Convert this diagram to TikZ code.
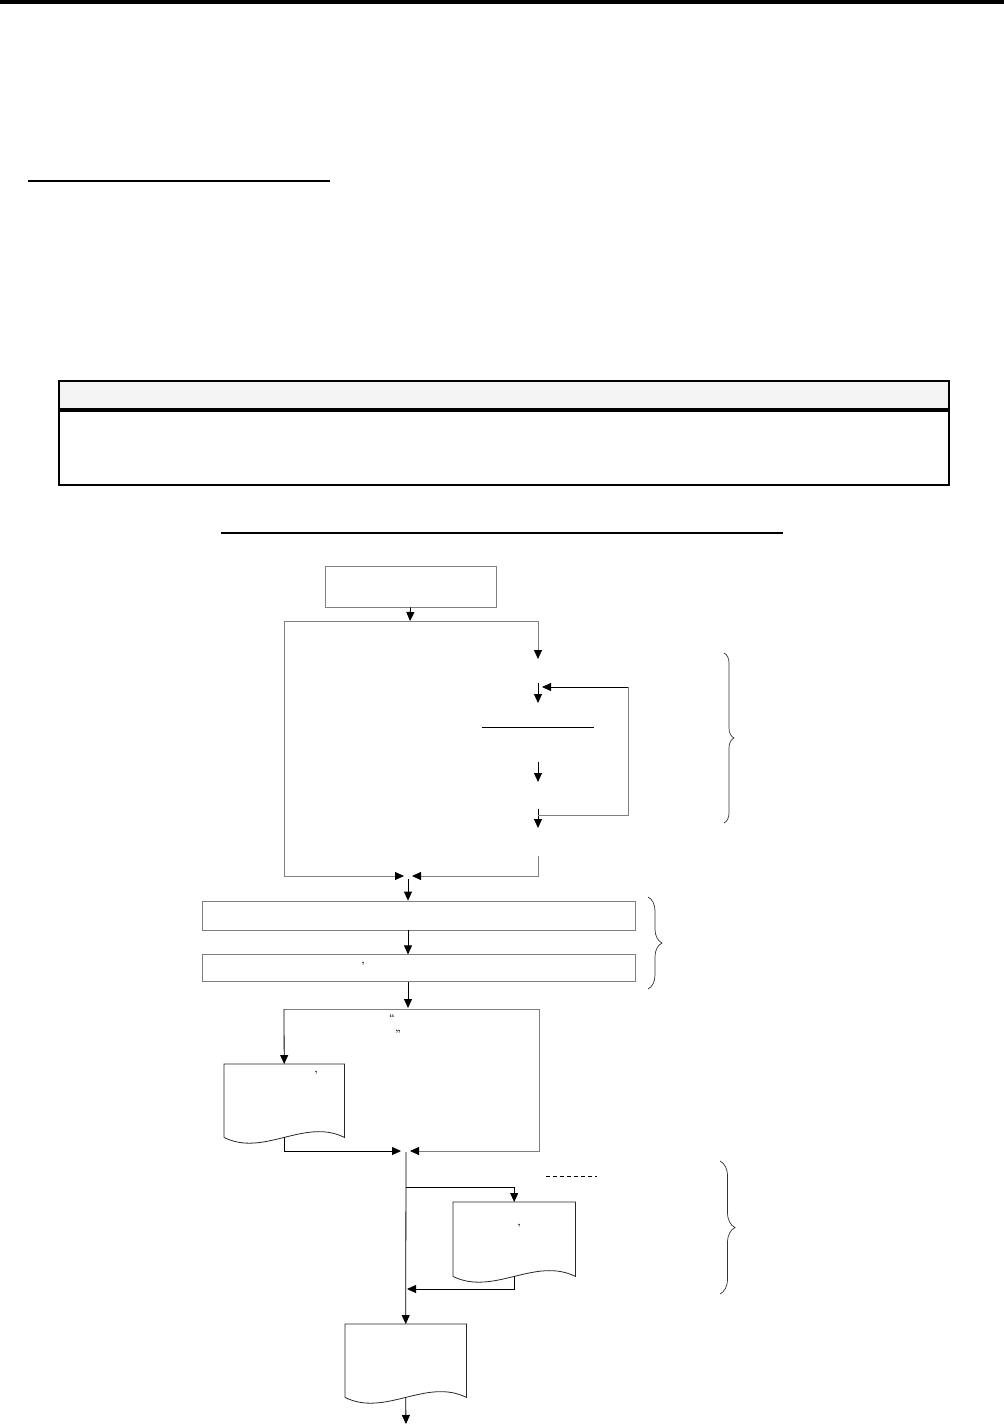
\documentclass[tikz,border=0pt]{standalone}
\usetikzlibrary{arrows.meta,positioning,calc,decorations.pathreplacing}
\definecolor{ln}{HTML}{808080}
\definecolor{hd}{HTML}{F4F4F4}
\tikzset{
  box/.style={draw=ln,line width=0.8pt,inner sep=0pt},
  doc/.style={inner sep=0pt,anchor=north west},
  docl/.style={draw=black!85,line width=0.8pt},
  ar/.style={-{Triangle[length=9pt,width=8pt,color=black]},line width=0.8pt},
  gl/.style={draw=ln,line width=0.8pt},
  brc/.style={decorate,decoration={brace,amplitude=#1},line width=0.7pt,draw=black!80},
  brc/.default=10pt,
  mk/.style={inner sep=0pt,font=\small\bfseries},
}
\begin{document}
\begin{tikzpicture}[x=1pt,y=-1pt]
\useasboundingbox (0,0) rectangle (1004,1425);
% page furniture
\fill (0,0) rectangle (1004,4);
\draw[line width=1.5pt] (28,181) -- (330,181);
\node[draw,line width=2pt,fill=hd,minimum width=890pt,minimum height=28pt,inner sep=0pt,anchor=north west] (hdr) at (58,380) {};
\node[draw,line width=2pt,minimum width=890pt,minimum height=74pt,inner sep=0pt,anchor=north west] (tbody) at (hdr.south west) {};
\draw[line width=1.2pt] (221,533) -- (783,533);

% steps
\node[box,minimum width=171pt,minimum height=41pt] (start) at (410.5,586.5) {};
\node[box,minimum width=433pt,minimum height=29pt] (stepA) at (418.5,915.5) {};
\node[box,minimum width=433pt,minimum height=27pt,below=24pt of stepA] (stepB) {};
\node[doc,minimum width=120pt,minimum height=73pt] (doc1) at (224,1064) {};
\node[doc,minimum width=122pt,minimum height=74pt] (doc2) at (453,1202) {};
\node[doc,minimum width=121pt,minimum height=73pt] (doc3) at (345,1324) {};
\foreach \d in {doc1,doc2,doc3}
  \draw[docl] (\d.south west) -- (\d.north west) -- (\d.north east) -- (\d.south east)
    .. controls ($(\d.south east)!0.33!(\d.south west)+(0,-20)$) and ($(\d.south east)!0.67!(\d.south west)+(0,20)$) .. (\d.south west);

% marks left of the lost text
\node[mk,anchor=north] (q1) at (363,962) {’};
\node[mk,anchor=north] (q2) at (392,1014) {“};
\node[mk,anchor=north] (q3) at (398,1030) {”};
\node[mk,anchor=north] (q4) at (316,1071) {’};
\node[mk,anchor=north] (q5) at (519,1224) {’};

% upper loop
\coordinate (sp1) at (410,621);
\coordinate (lc) at (284,876);
\coordinate (mg1l) at (404,876);
\coordinate (mg1r) at (412,876);
\coordinate (mg1) at (408,879);
\coordinate (r0) at (538,659);
\coordinate (r4) at (538,856);
\foreach \n/\ya/\yb in {a/683/703,b/762/782,c/809/828} {
  \coordinate (\n top) at (538,\ya);
  \coordinate (\n bot) at (538,\yb);
}
\coordinate (fb0) at (538,815);
\coordinate (fbt) at (628,687);
\coordinate (fbe) at (542,687);
\draw[ar] (start.south) -- (sp1);
\draw[gl,ar] (sp1) -| (lc) -- (mg1l);
\draw[gl,ar] (sp1) -| (r0);
\foreach \n in {a,b,c}
  \draw[ar] (\n top) -- (\n bot);
\draw[gl] (fb0) -| (fbt);
\draw[ar] (fbt) -- (fbe);
\draw[line width=1pt] (482,727) -- (594,727);
\draw[gl,ar] (r4) |- (mg1r);
\draw[ar] (mg1) -- (mg1 |- stepA.north);
\draw[ar] (mg1 |- stepA.south) -- (mg1 |- stepB.north);

% output split
\coordinate (sp2) at (408,1008);
\coordinate (ll2) at (284,1009);
\coordinate (rr2) at (539,1009);
\coordinate (mg2l) at (401,1151);
\coordinate (mg2r) at (410,1151);
\draw[ar] (mg1 |- stepB.south) -- (sp2);
\draw[gl] (ll2) -- (rr2);
\draw[ar] (ll2) -- (doc1.north);
\draw[gl,ar] (rr2) |- (mg2r);
\draw[ar] (doc1.south) |- (mg2l);

% lower part
\coordinate (mg2) at (406,1152);
\coordinate (br) at (406,1187);
\coordinate (rt) at (407,1289);
\coordinate (ex) at (406,1424);
\draw[ar] (mg2) -- (doc3.north);
\draw[ar] (br) -| (doc2.north);
\draw[ar] (doc2.south) |- (rt);
\draw[ar] (doc3.south) -- (ex);
\draw[dash pattern=on 4pt off 3pt,line width=0.8pt] (546,1176) -- (597,1176);

% braces
\draw[brc=10pt] (724,653) -- (724,823);
\draw[brc=14pt] (648,897) -- (648,989);
\draw[brc=15pt] (720,1161) -- (720,1294);
\end{tikzpicture}
\end{document}
